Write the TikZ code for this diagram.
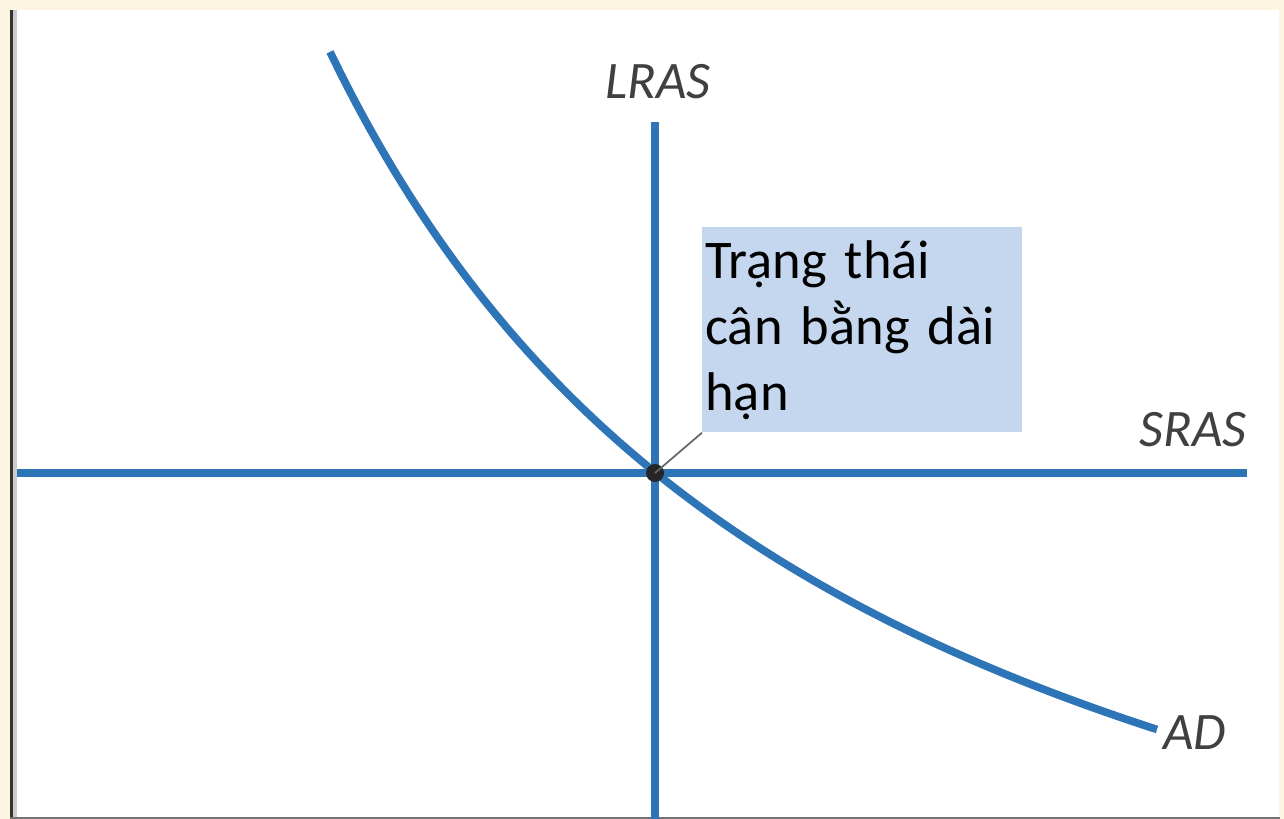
\documentclass[tikz,border=0pt]{standalone}
\usepackage{fontspec}
\setmainfont{Carlito}
\usetikzlibrary{positioning}
\definecolor{mycream}{RGB}{253,245,225}
\definecolor{myblue}{RGB}{46,117,184}
\definecolor{mynote}{RGB}{197,215,238}
\definecolor{mylabel}{RGB}{64,64,64}

\begin{document}
\begin{tikzpicture}[
    curve/.style={myblue, line width=4.4pt},
    curvelabel/.style={mylabel, font=\fontsize{30}{36}\selectfont\itshape, inner sep=0pt}
  ]
            \useasboundingbox (0,0) rectangle (25.68,16.38);
            % frame
            \fill[mycream] (0,0) rectangle (25.68,16.38);
            \fill[white] (0.2,0) rectangle (25.58,16.18);
            \fill[black!80] (0.2,0) rectangle (0.26,16.18);
            \fill[black!20] (0.26,0.04) rectangle (0.34,16.18);
            \fill[black!55] (0.2,0) rectangle (25.6,0.04);
            % curves
            \draw[curve] (13.1,0) -- (13.1,13.94);
            \draw[curve] (0.34,6.92) -- (24.94,6.92);
            \draw[curve, domain=6.6:23.14, samples=80, smooth, variable=\x] plot ({\x},{-7.1+243.5/(\x+4.25)});
            \node[curvelabel, anchor=base] (lras) at (13.16,14.4) {LRAS};
            \node[curvelabel, anchor=base east] (sras) at (24.94,7.44) {SRAS};
            \node[curvelabel, anchor=base west] (ad) at (23.26,1.38) {AD};
            % equilibrium
            \node[circle, fill=black!85, minimum size=0.36cm, inner sep=0pt] (eq) at (13.1,6.92) {};
            \node[fill=mynote, anchor=north west, text width=6.28cm, minimum height=4.1cm, inner xsep=0.06cm, inner ysep=0pt, align=left, font=\fontsize{31}{37.5}\selectfont] (note) at (14.04,11.84) {Trạng thái\\cân bằng dài\\hạn};
            \draw[black!60, line width=1pt] (eq.center) -- (note.south west);
        \end{tikzpicture}
\end{document}
